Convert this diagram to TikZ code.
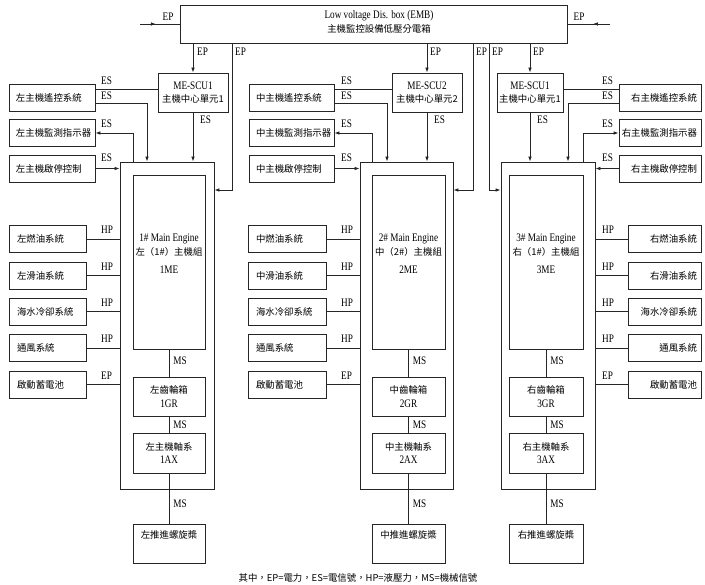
\documentclass[tikz,border=0pt]{standalone}
\usepackage{fontspec}
\setmainfont{Liberation Serif}[FakeStretch=0.8]
\newfontfamily\cjk{Noto Sans CJK TC}
\newcommand\zh{\cjk\fontsize{9.4}{13.5}\selectfont}
\usetikzlibrary{arrows.meta,decorations.markings}
\tikzset{
  ln/.style={line width=0.8pt, draw=black!85},
  arr/.style={ln, -{Latex[length=5pt,width=3.6pt]}},
  midarr/.style={ln, postaction={decorate}, decoration={markings, mark=at position #1 with {\arrow{Latex[length=5pt,width=3.6pt]}}}},
  bx/.style={draw=black!85, line width=0.8pt, rectangle, inner sep=0pt, align=center, font=\fontsize{11.5}{13.5}\selectfont},
  txt/.style={inner sep=0pt, align=center, font=\fontsize{11.5}{13.5}\selectfont},
  tag/.style={inner sep=0pt, anchor=west, font=\fontsize{11.5}{12}\selectfont},
  sideA/.style={bx, minimum width=#1, minimum height=27pt},
}
\begin{document}
\begin{tikzpicture}[x=1pt,y=-1pt]
\useasboundingbox (0,0) rectangle (705,585);
% ---------- top distribution box
\node[bx, minimum width=387pt, minimum height=38pt] (EMB) at (373.5,24) {};
\node[txt] (EMBt) at (379,22) {Low voltage Dis. box (EMB)\\{\zh 主機監控設備低壓分電箱}};
\coordinate (inL) at (140,24);
\coordinate (inR) at (610,24);
\draw[midarr=0.4] (inL) -- (EMB.west);
\draw[midarr=0.4] (inR) -- (EMB.east);
\node[tag, anchor=center] (tEPl) at (168,17) {EP};
\node[tag, anchor=center] (tEPr) at (579,17) {EP};

% ---------- control units
\node[bx, minimum width=70pt, minimum height=39pt] (SCUa) at (193,92.5) {ME-SCU1\\{\zh 主機中心單元1}};
\node[bx, minimum width=70pt, minimum height=39pt] (SCUb) at (427,92.5) {ME-SCU2\\{\zh 主機中心單元2}};
\node[bx, minimum width=66pt, minimum height=39pt] (SCUc) at (530,92.5) {ME-SCU1\\{\zh 主機中心單元1}};

% ---------- engine blocks
\node[bx, minimum width=94pt, minimum height=327pt] (LO) at (167,325.5) {};
\node[bx, minimum width=93pt, minimum height=327pt] (MO) at (406.5,325.5) {};
\node[bx, minimum width=94pt, minimum height=327pt] (RO) at (548,325.5) {};

\node[bx, minimum width=72pt, minimum height=174pt] (LME) at (169,262) {};
\node[bx, minimum width=73pt, minimum height=174pt] (MME) at (408.5,262) {};
\node[bx, minimum width=74pt, minimum height=174pt] (RME) at (546,262) {};
\node[txt] (LMEt) at (169,245) {1\# Main Engine\\{\zh 左（1\#）主機組}};
\node[txt] (MMEt) at (408.5,245) {2\# Main Engine\\{\zh 中（2\#）主機組}};
\node[txt] (RMEt) at (546,245) {3\# Main Engine\\{\zh 右（1\#）主機組}};
\node[txt] (LMEn) at (169,270) {1ME};
\node[txt] (MMEn) at (408.5,270) {2ME};
\node[txt] (RMEn) at (546,270) {3ME};

\node[bx, minimum width=72pt, minimum height=39pt] (LGR) at (169,396.5) {{\zh 左齒輪箱}\\1GR};
\node[bx, minimum width=73pt, minimum height=39pt] (MGR) at (408.5,396.5) {{\zh 中齒輪箱}\\2GR};
\node[bx, minimum width=74pt, minimum height=39pt] (RGR) at (546,396.5) {{\zh 右齒輪箱}\\3GR};
\node[bx, minimum width=72pt, minimum height=40pt] (LAX) at (169,453) {{\zh 左主機軸系}\\1AX};
\node[bx, minimum width=73pt, minimum height=40pt] (MAX) at (408.5,453) {{\zh 中主機軸系}\\2AX};
\node[bx, minimum width=74pt, minimum height=40pt] (RAX) at (546,453) {{\zh 右主機軸系}\\3AX};
\node[bx, minimum width=72pt, minimum height=39pt] (LPR) at (169,543.5) {{\zh 左推進螺旋槳}\\[4pt]};
\node[bx, minimum width=73pt, minimum height=39pt] (MPR) at (408.5,543.5) {{\zh 中推進螺旋槳}\\[4pt]};
\node[bx, minimum width=74pt, minimum height=39pt] (RPR) at (546,543.5) {{\zh 右推進螺旋槳}\\[4pt]};

% ---------- side boxes, upper
\node[sideA=86pt] (LA1) at (52,98) {\makebox[72pt][l]{\zh 左主機遙控系統}};
\node[sideA=86pt] (LA2) at (52,133) {\makebox[72pt][l]{\zh 左主機監測指示器}};
\node[sideA=86pt] (LA3) at (52,168.5) {\makebox[72pt][l]{\zh 左主機啟停控制}};
\node[sideA=85pt] (MA1) at (291.5,98) {\makebox[71pt][l]{\zh 中主機遙控系統}};
\node[sideA=85pt] (MA2) at (291.5,133) {\makebox[71pt][l]{\zh 中主機監測指示器}};
\node[sideA=85pt] (MA3) at (291.5,168.5) {\makebox[71pt][l]{\zh 中主機啟停控制}};
\node[sideA=82pt] (RA1) at (660,98) {\makebox[74pt][r]{\zh 右主機遙控系統}};
\node[sideA=82pt] (RA2) at (660,133) {\makebox[74pt][r]{\zh 右主機監測指示器}};
\node[sideA=82pt] (RA3) at (660,168.5) {\makebox[74pt][r]{\zh 右主機啟停控制}};

% ---------- side boxes, lower
\node[sideA=77pt] (LB1) at (47.5,239) {\makebox[61pt][l]{\zh 左燃油系統}};
\node[sideA=77pt] (LB2) at (47.5,275.5) {\makebox[61pt][l]{\zh 左滑油系統}};
\node[sideA=77pt] (LB3) at (47.5,311.5) {\makebox[61pt][l]{\zh 海水冷卻系統}};
\node[sideA=77pt] (LB4) at (47.5,348) {\makebox[61pt][l]{\zh 通風系統}};
\node[sideA=77pt] (LB5) at (47.5,384.5) {\makebox[61pt][l]{\zh 啟動蓄電池}};
\node[sideA=78pt] (MB1) at (287,239) {\makebox[62pt][l]{\zh 中燃油系統}};
\node[sideA=78pt] (MB2) at (287,275.5) {\makebox[62pt][l]{\zh 中滑油系統}};
\node[sideA=78pt] (MB3) at (287,311.5) {\makebox[62pt][l]{\zh 海水冷卻系統}};
\node[sideA=78pt] (MB4) at (287,348) {\makebox[62pt][l]{\zh 通風系統}};
\node[sideA=78pt] (MB5) at (287,384.5) {\makebox[62pt][l]{\zh 啟動蓄電池}};
\node[sideA=73pt] (RB1) at (664.5,239) {\makebox[65pt][r]{\zh 右燃油系統}};
\node[sideA=73pt] (RB2) at (664.5,275.5) {\makebox[65pt][r]{\zh 右滑油系統}};
\node[sideA=73pt] (RB3) at (664.5,311.5) {\makebox[65pt][r]{\zh 海水冷卻系統}};
\node[sideA=73pt] (RB4) at (664.5,348) {\makebox[65pt][r]{\zh 通風系統}};
\node[sideA=73pt] (RB5) at (664.5,384.5) {\makebox[65pt][r]{\zh 啟動蓄電池}};

% ---------- EP feeders from the distribution box
\coordinate (epL) at (232,190);
\coordinate (epM) at (473,190);
\coordinate (epR) at (489,190);
\draw[arr] (EMB.south -| SCUa.north) -- (SCUa.north);
\draw[arr] (EMB.south -| SCUb.north) -- (SCUb.north);
\draw[arr] (EMB.south -| SCUc.north) -- (SCUc.north);
\draw[arr] (EMB.south -| epL) -- (epL) -- (LO.east |- epL);
\draw[arr] (EMB.south -| epM) -- (epM) -- (MO.east |- epM);
\draw[arr] (EMB.south -| epR) -- (epR) -- (RO.west |- epR);
\node[tag] (tEP1) at (197,52) {EP};
\node[tag] (tEP2) at (235,52) {EP};
\node[tag] (tEP3) at (430,52) {EP};
\node[tag] (tEP4) at (476,52) {EP};
\node[tag] (tEP5) at (492,52) {EP};
\node[tag] (tEP6) at (533,52) {EP};

% ---------- ES signals
\coordinate (es1) at (0,89);
\coordinate (esL2) at (147,103);
\coordinate (esL3) at (133,132);
\coordinate (esM2) at (387,103);
\coordinate (esM3) at (372,132);
\coordinate (esR2) at (568,103);
\coordinate (esR3) at (583,132);
% left
\draw[ln] (LA1.east |- es1) -- (SCUa.west |- es1);
\draw[arr] (LA1.east |- esL2) -| (esL2 |- LO.north);
\draw[arr] (esL3 |- LO.north) |- (LA2.east);
\draw[arr] (LA3.east) -- (LO.west |- LA3.east);
\draw[arr] (SCUa.south) -- (SCUa.south |- LO.north);
% middle
\draw[ln] (MA1.east |- es1) -- (SCUb.west |- es1);
\draw[arr] (MA1.east |- esM2) -| (esM2 |- MO.north);
\draw[arr] (esM3 |- MO.north) |- (MA2.east);
\draw[arr] (MA3.east) -- (MO.west |- MA3.east);
\draw[arr] (SCUb.south) -- (SCUb.south |- MO.north);
% right
\draw[ln] (SCUc.east |- es1) -- (RA1.west |- es1);
\draw[arr] (RA1.west |- esR2) -| (esR2 |- RO.north);
\draw[arr] (esR3 |- RO.north) |- (RA2.west);
\draw[arr] (RA3.west) -- (RO.east |- RA3.west);
\draw[arr] (SCUc.south) -- (SCUc.south |- RO.north);

\foreach \y/\n in {81/a,96/b,124/c,158/d}{
  \node[tag] (tESL\n) at (101,\y) {ES};
  \node[tag] (tESM\n) at (341,\y) {ES};
  \node[tag] (tESR\n) at (602,\y) {ES};
}
\node[tag] (tESLe) at (200,120) {ES};
\node[tag] (tESMe) at (434,120) {ES};
\node[tag] (tESRe) at (537,120) {ES};

% ---------- HP / EP auxiliaries
\foreach \k in {1,...,5}{
  \draw[ln] (LB\k.east) -- (LO.west |- LB\k.east);
  \draw[ln] (MB\k.east) -- (MO.west |- MB\k.east);
  \draw[ln] (RO.east |- RB\k.west) -- (RB\k.west);
}
\foreach \y/\t/\n in {230/HP/a,266.5/HP/b,302.5/HP/c,339/HP/d,375.5/EP/e}{
  \node[tag] (tHL\n) at (101,\y) {\t};
  \node[tag] (tHM\n) at (341,\y) {\t};
  \node[tag] (tHR\n) at (602,\y) {\t};
}

% ---------- MS shafts
\foreach \c in {L,M,R}{
  \draw[ln] (\c ME.south) -- (\c GR.north) node[tag, midway, xshift=4pt, yshift=2pt] {MS};
  \draw[ln] (\c GR.south) -- (\c AX.north) node[tag, midway, xshift=4pt] {MS};
  \draw[ln] (\c AX.south) -- (\c PR.north) node[tag, midway, xshift=4pt, yshift=-5pt] {MS};
}

% ---------- legend
\node[txt] (legend) at (358,578) {\zh 其中，EP=電力，ES=電信號，HP=液壓力，MS=機械信號};
\end{tikzpicture}
\end{document}
